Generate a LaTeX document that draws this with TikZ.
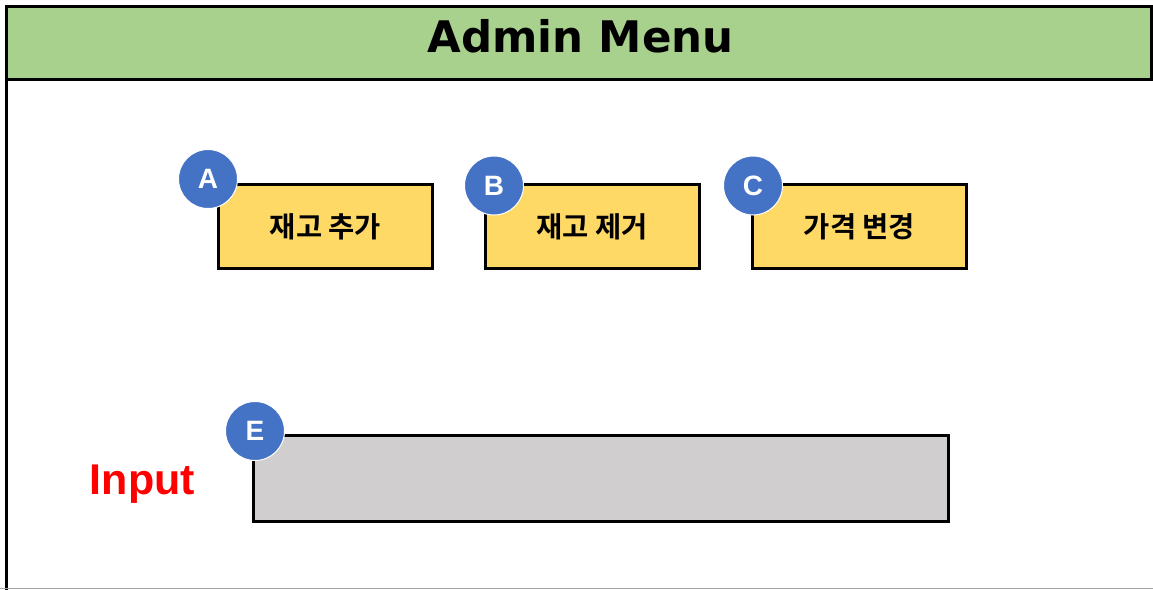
\documentclass[tikz,border=0pt]{standalone}
\usepackage{fontspec}
\newfontfamily\krfont{Noto Sans CJK KR Bold}
\newfontfamily\titlefont{DejaVu Sans Bold}
\newfontfamily\labfont{Liberation Sans Bold}
\definecolor{headgreen}{HTML}{A9D18E}
\definecolor{boxyellow}{HTML}{FFD966}
\definecolor{badgeblue}{HTML}{4472C4}
\definecolor{inputgray}{HTML}{D0CECE}
\begin{document}
\begin{tikzpicture}[x=1pt,y=-1pt,
  menubox/.style={draw=black, line width=3pt, fill=boxyellow, minimum width=214pt, minimum height=84pt, inner sep=0pt, font=\krfont\fontsize{28.5}{28.5}\selectfont},
  inputbox/.style={draw=black, line width=3pt, fill=inputgray, minimum width=695pt, minimum height=86pt, inner sep=0pt},
  badge/.style={circle, fill=badgeblue, draw=white, line width=1pt, minimum size=59pt, inner sep=0pt, text=white, font=\labfont\fontsize{28}{28}\selectfont},
  frameline/.style={draw=black, line width=3pt}]
\useasboundingbox (0,0) rectangle (1153,589);
\begin{scope}
\clip (0,0) rectangle (1153,589);
% body frame (right and bottom run off the picture)
\draw[frameline] (6.5,79.5) -- (6.5,600);
\draw[gray!70, line width=1.5pt] (0,588.3) -- (1153,588.3);
% header
\draw[frameline, fill=headgreen] (6.5,6.5) rectangle (1151.5,79.5);
\end{scope}
\node[anchor=base, font=\titlefont\fontsize{43.5}{43.5}\selectfont] (title) at (580.5,52.5) {Admin Menu};
% menu buttons
\node[menubox] (boxA) at (325.5,226.5) {재고 추가};
\node[menubox] (boxB) at (592,226.5) {재고 제거};
\node[menubox] (boxC) at (859.5,226.5) {가격 변경};
% input field
\node[inputbox] (boxE) at (601,478.5) {};
\node[anchor=base, text=red, font=\labfont\fontsize{43}{43}\selectfont] (inputlbl) at (142.5,494) {Input};
% badges
\node[badge] (badgeA) at (208,179) {A};
\node[badge] (badgeB) at (494,185.5) {B};
\node[badge] (badgeC) at (753,185.5) {C};
\node[badge] (badgeE) at (255,431) {E};
\end{tikzpicture}
\end{document}
